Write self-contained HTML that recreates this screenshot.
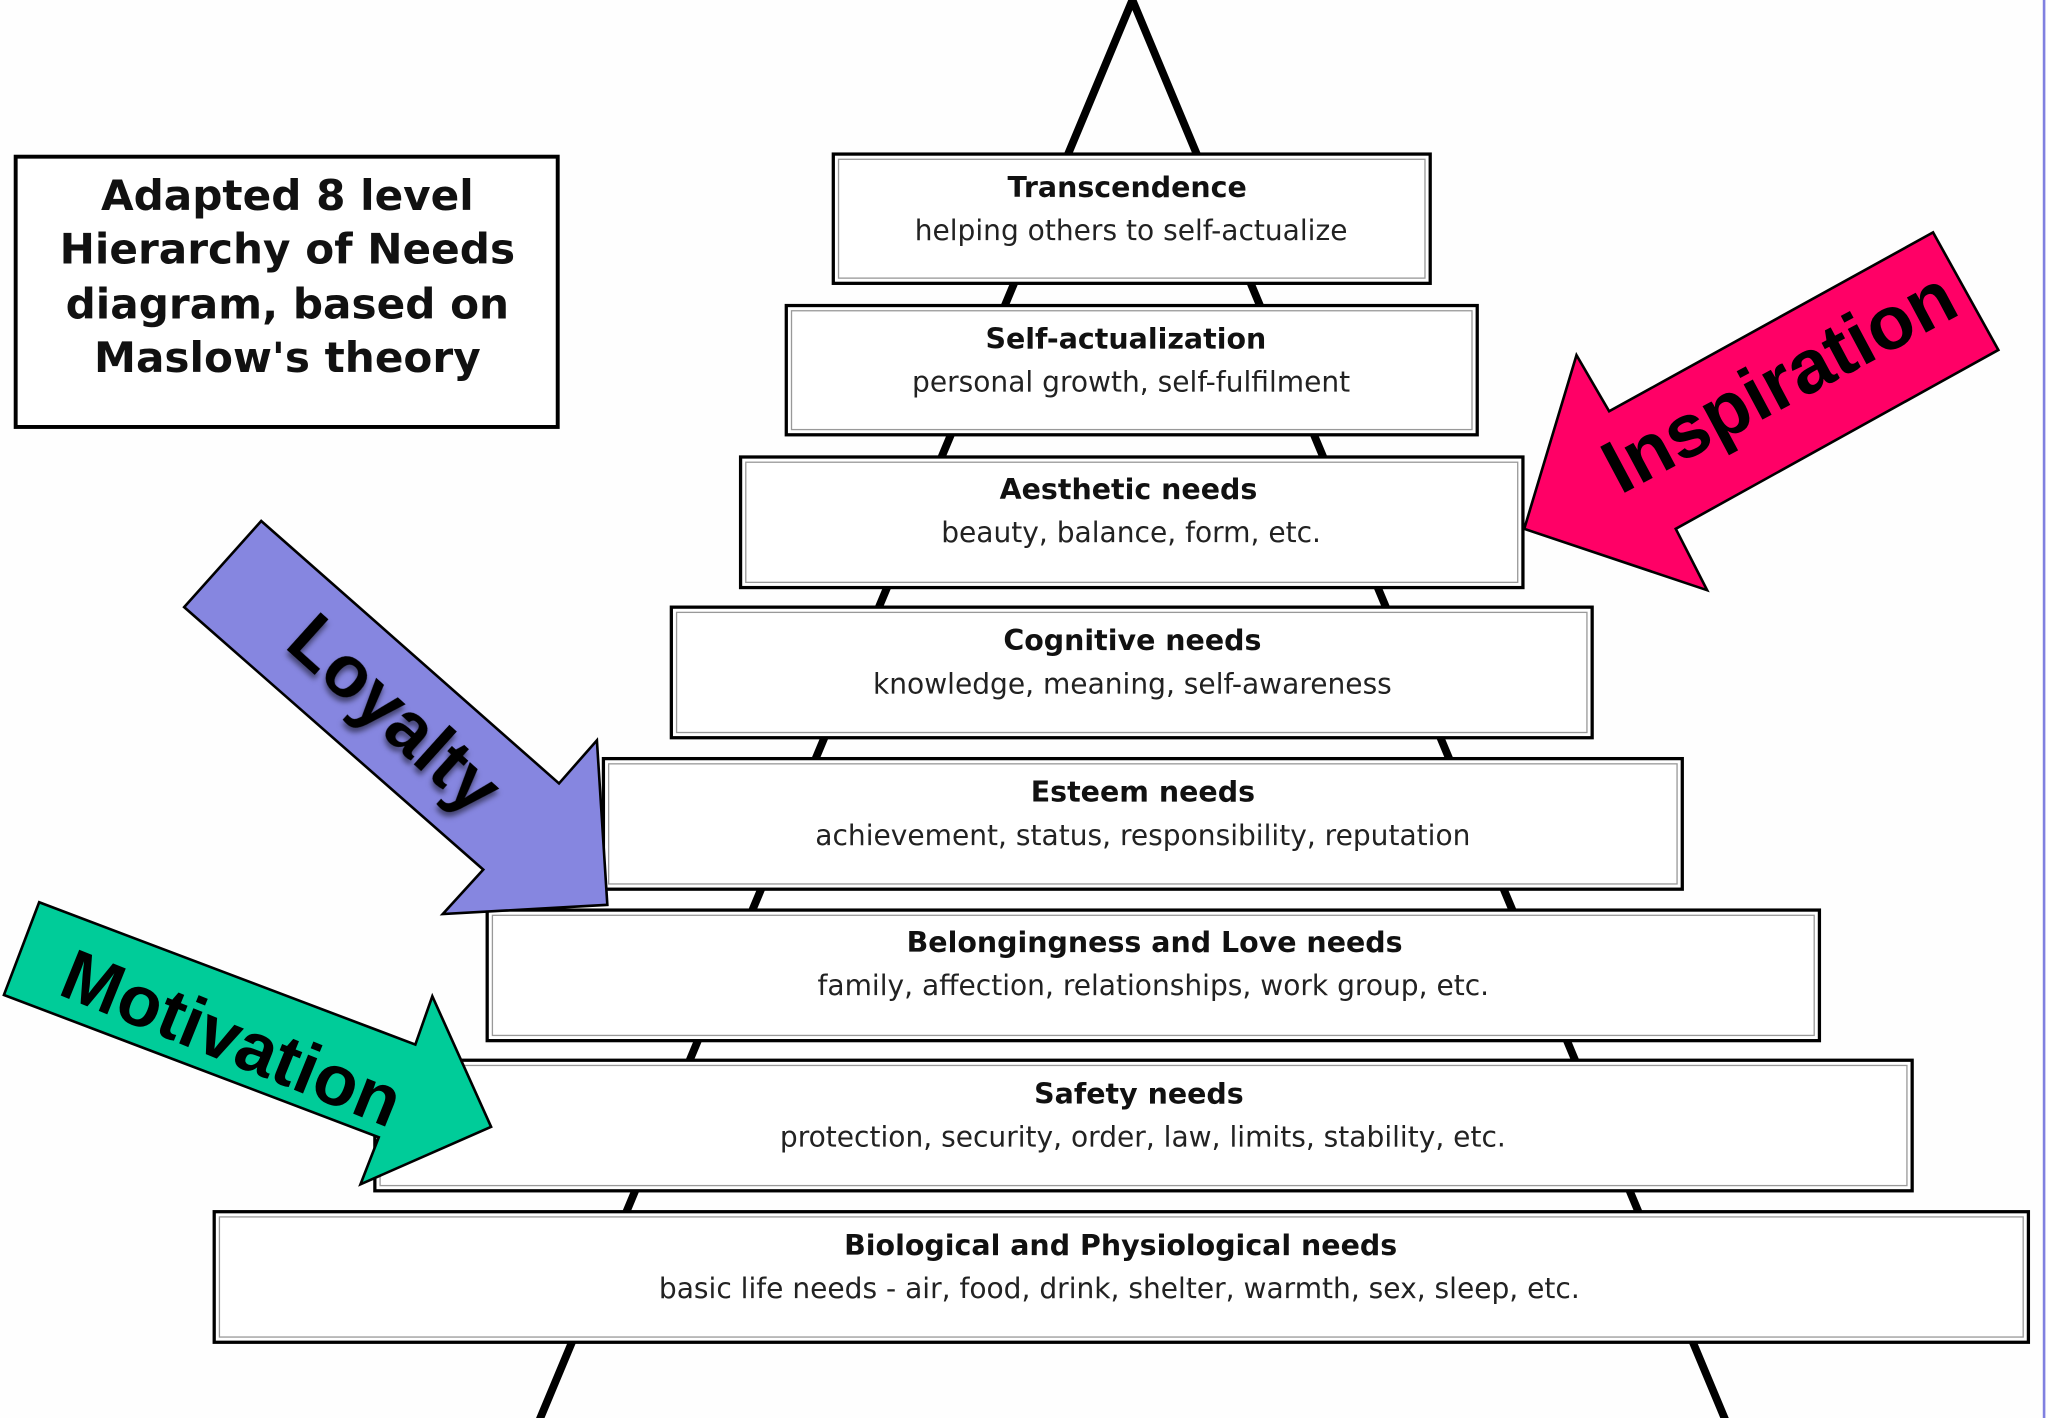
<!DOCTYPE html>
<html><head><meta charset="utf-8"><style>
html,body{margin:0;padding:0;background:#fff;}
svg{display:block;}
.t{font-family:"DejaVu Sans","Liberation Sans",sans-serif;font-weight:bold;font-size:21.8px;fill:#111;text-anchor:middle;}
.s{font-family:"DejaVu Sans","Liberation Sans",sans-serif;font-size:21.5px;fill:#222;text-anchor:middle;}
.h{font-family:"DejaVu Sans","Liberation Sans",sans-serif;font-weight:bold;font-size:32.3px;fill:#111;text-anchor:middle;}
.a{font-family:"Liberation Sans",Arial,sans-serif;font-weight:bold;fill:#000;text-anchor:middle;}
</style></head><body>
<svg width="2048" height="1418" viewBox="0 0 1568 1086" preserveAspectRatio="none" xmlns="http://www.w3.org/2000/svg">
<rect width="1568" height="1086" fill="#fefefe"/>
<line x1="1565" y1="0" x2="1565" y2="1086" stroke="#8080e0" stroke-width="2"/>
<polyline points="412,1090 867,0 1322,1090" fill="none" stroke="#000" stroke-width="6"/>
<rect x="12" y="120" width="415" height="207" fill="#fff" stroke="#000" stroke-width="3"/>
<text class="h" x="220" y="161">Adapted 8 level</text>
<text class="h" x="220" y="202">Hierarchy of Needs</text>
<text class="h" x="220" y="244">diagram, based on</text>
<text class="h" x="220" y="285">Maslow's theory</text>
<g fill="#fff" stroke="#000" stroke-width="2.5">
<rect x="638" y="118" width="457" height="99"/>
<rect x="602" y="234" width="529" height="99"/>
<rect x="567" y="350" width="599" height="100"/>
<rect x="514" y="465" width="705" height="100"/>
<rect x="462" y="581" width="826" height="100"/>
<rect x="373" y="697" width="1020" height="100"/>
<rect x="287" y="812" width="1177" height="100"/>
<rect x="164" y="928" width="1389" height="100"/>
</g>
<g fill="none" stroke="#999" stroke-width="1">
<rect x="642" y="122" width="449" height="91"/>
<rect x="606" y="238" width="521" height="91"/>
<rect x="571" y="354" width="591" height="92"/>
<rect x="518" y="469" width="697" height="92"/>
<rect x="466" y="585" width="818" height="92"/>
<rect x="377" y="701" width="1012" height="92"/>
<rect x="291" y="816" width="1169" height="92"/>
<rect x="168" y="932" width="1381" height="92"/>
</g>
<text class="t" x="863" y="151">Transcendence</text><text class="s" x="866" y="184">helping others to self-actualize</text>
<text class="t" x="862" y="267">Self-actualization</text><text class="s" x="866" y="300">personal growth, self-fulfilment</text>
<text class="t" x="864" y="382">Aesthetic needs</text><text class="s" x="866" y="415">beauty, balance, form, etc.</text>
<text class="t" x="867" y="498">Cognitive needs</text><text class="s" x="867" y="531">knowledge, meaning, self-awareness</text>
<text class="t" x="875" y="614">Esteem needs</text><text class="s" x="875" y="647">achievement, status, responsibility, reputation</text>
<text class="t" x="884" y="729">Belongingness and Love needs</text><text class="s" x="883" y="762">family, affection, relationships, work group, etc.</text>
<text class="t" x="872" y="845">Safety needs</text><text class="s" x="875" y="878">protection, security, order, law, limits, stability, etc.</text>
<text class="t" x="858" y="961">Biological and Physiological needs</text><text class="s" x="857" y="994">basic life needs - air, food, drink, shelter, warmth, sex, sleep, etc.</text>
<polygon points="1167,405 1207,272 1232,315 1480,178 1530,268 1283,405 1307,452" fill="#ff0066" stroke="#000" stroke-width="2"/>
<text class="a" x="1362" y="312" font-size="58" transform="rotate(-28 1362 292)">Inspiration</text>
<polygon points="200,399 428,600 457,567 465,693 339,700 370,666 141,465" fill="#8686e0" stroke="#000" stroke-width="2"/>
<text class="a" x="303" y="566" font-size="56" fill="#000" transform="rotate(42 303 546)" style="filter:drop-shadow(2px 3px 2px rgba(0,0,0,0.5))">Loyalty</text>
<polygon points="30,691 318,800 331,763 376,863 276,907 290,871 3,762" fill="#00cc99" stroke="#000" stroke-width="2"/>
<text class="a" x="178" y="814" font-size="55" transform="rotate(22 178 794)">Motivation</text>
</svg>
</body></html>
